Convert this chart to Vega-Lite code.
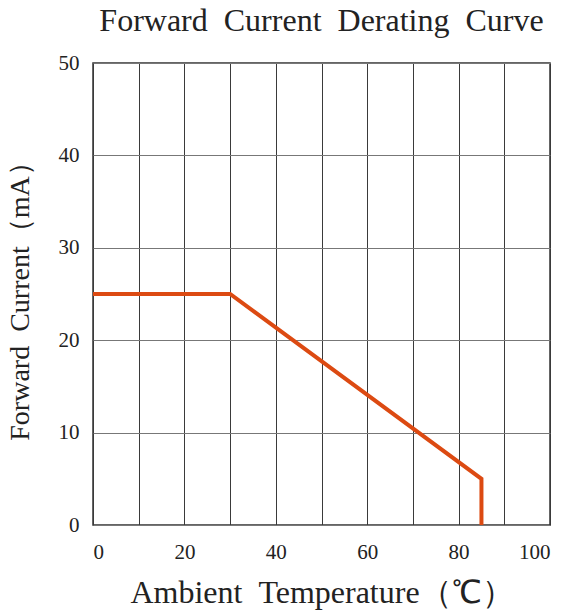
{
  "$schema": "https://vega.github.io/schema/vega-lite/v6.json",
  "autosize": "none",
  "width": 457,
  "height": 462,
  "padding": {"left": 93, "top": 63, "right": 13, "bottom": 91},
  "background": "white",
  "title": {
    "text": "Forward \u00a0Current \u00a0Derating \u00a0Curve",
    "font": "Liberation Serif",
    "fontSize": 32,
    "fontWeight": "normal",
    "color": "#222222",
    "anchor": "middle",
    "offset": 14
  },
  "config": {
    "view": {"stroke": "#333333", "strokeWidth": 1.5},
    "style": {
      "guide-label": {"font": "Liberation Serif", "fill": "#222222"},
      "guide-title": {"font": "Liberation Serif", "fill": "#222222"}
    },
    "axis": {
      "labelFont": "Liberation Serif",
      "titleFont": "Liberation Serif",
      "labelColor": "#222222",
      "titleColor": "#222222",
      "titleFontWeight": "normal",
      "ticks": false,
      "domain": false
    }
  },
  "data": {
    "values": [
      {"seq": 1, "temp": 0, "current": 25},
      {"seq": 2, "temp": 30, "current": 25},
      {"seq": 3, "temp": 85, "current": 5},
      {"seq": 4, "temp": 85, "current": 0}
    ]
  },
  "mark": {"type": "line", "color": "#dc4a12", "strokeWidth": 4, "clip": true},
  "encoding": {
    "x": {
      "field": "temp",
      "type": "quantitative",
      "scale": {"domain": [0, 100], "nice": false},
      "axis": {
        "title": "Ambient \u00a0Temperature（℃）",
        "values": [0, 10, 20, 30, 40, 50, 60, 70, 80, 90, 100],
        "labelExpr": "datum.value % 20 === 0 ? datum.label : ''",
        "labelFont": "Liberation Serif",
        "labelFontSize": 21,
        "labelPadding": 16,
        "titleFont": "Liberation Serif",
        "titleFontSize": 32,
        "titlePadding": 15,
        "gridColor": "#3a3a3a",
        "gridWidth": 1,
        "gridOpacity": 1
      }
    },
    "y": {
      "field": "current",
      "type": "quantitative",
      "scale": {"domain": [0, 50], "nice": false},
      "axis": {
        "title": "Forward \u00a0Current（mA）",
        "values": [0, 10, 20, 30, 40, 50],
        "labelFont": "Liberation Serif",
        "labelFontSize": 21,
        "labelPadding": 14,
        "titleFont": "Liberation Serif",
        "titleFontSize": 28,
        "titlePadding": 24,
        "gridColor": "#777777",
        "gridWidth": 1,
        "gridOpacity": 1
      }
    },
    "order": {"field": "seq", "type": "quantitative"}
  }
}
